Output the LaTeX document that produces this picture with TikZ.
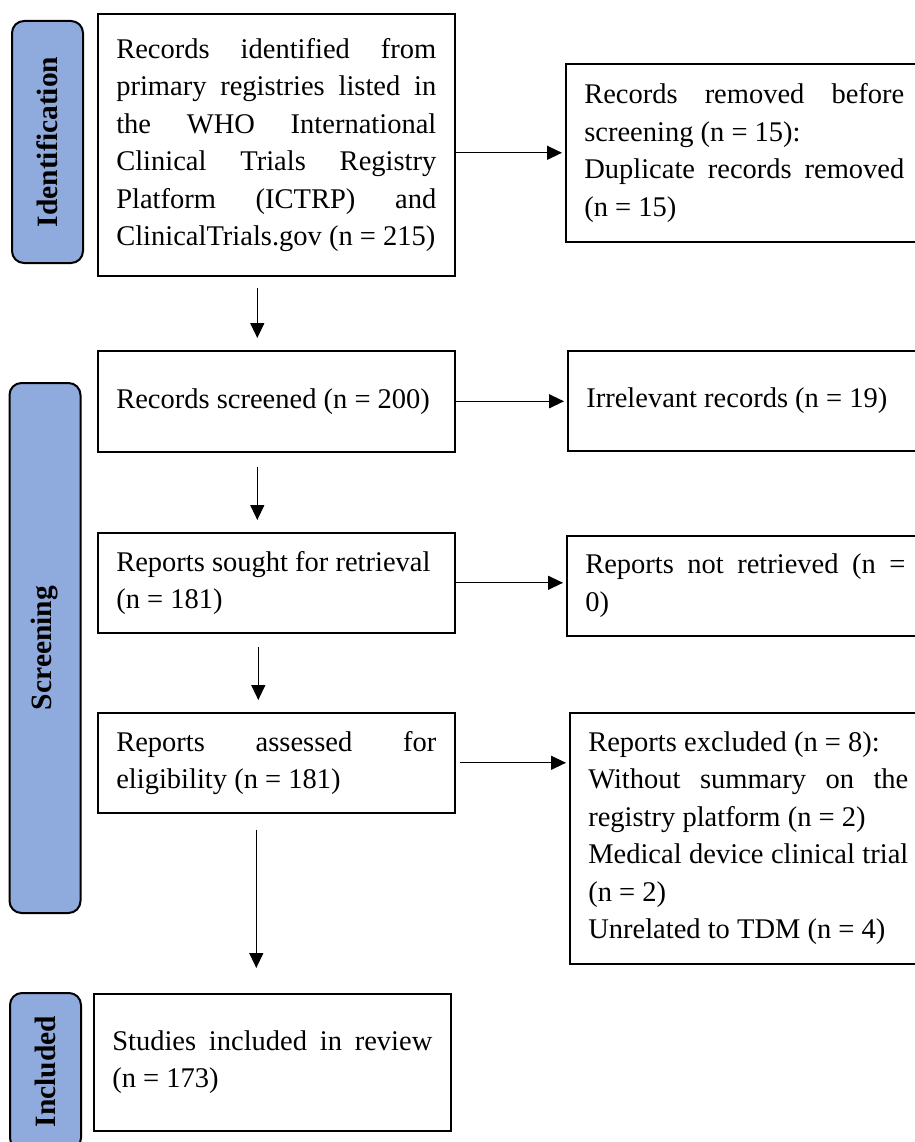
\documentclass[tikz,border=0pt]{standalone}
\usepackage{fontspec}
\setmainfont{Liberation Serif}
\usetikzlibrary{positioning, arrows.meta}
\definecolor{barblue}{HTML}{8FAADC}
\hyphenpenalty=10000
\exhyphenpenalty=10000
\tolerance=9999
\tikzset{
  flowbox/.style={draw, line width=1.6pt, anchor=north west, text width=320pt,
    inner xsep=18.5pt, align=justify, font=\fontsize{28.5}{37.5}\selectfont},
  stagebar/.style={draw, line width=2pt, fill=barblue, rounded corners=12pt,
    rotate=90, minimum height=71pt, font=\fontsize{29.5}{34}\selectfont\bfseries},
  flowarrow/.style={-{Triangle[length=15pt,width=14pt]}, line width=1.3pt},
}
\begin{document}
\begin{tikzpicture}[x=1pt, y=-1pt]
\useasboundingbox (0,0) rectangle (914,1142);

% stage bars
\node[stagebar, minimum width=242pt] (identbar) at (47.5,142) {Identification};
\node[stagebar, minimum width=530pt] (screenbar) at (45,648) {Screening};
\node[stagebar, minimum width=157pt] (inclbar) at (45.5,1071.5) {Included};

% left column
\node[flowbox, minimum height=262pt] (records) at (97,13) {Records identified from\linebreak primary registries listed in\linebreak the WHO International\linebreak Clinical Trials Registry\linebreak Platform (ICTRP) and\linebreak ClinicalTrials.gov (n~=~215)};
\node[flowbox, minimum height=101pt] (screened) at (97,350) {Records screened (n~=~200)};
\node[flowbox, minimum height=100pt] (sought) at (97,532) {Reports sought for retrieval\\ (n~=~181)};
\node[flowbox, minimum height=100pt] (assessed) at (97,712) {Reports assessed for\linebreak eligibility (n~=~181)};
\node[flowbox, minimum height=137pt] (included) at (93,993) {Studies included in review\linebreak (n~=~173)};

% right column
\node[flowbox, minimum height=178pt] (removed) at (565,63) {Records removed before\linebreak screening (n~=~15):\\ Duplicate records removed\linebreak (n~=~15)};
\node[flowbox, minimum height=100pt] (irrelevant) at (567,350) {Irrelevant records (n~=~19)};
\node[flowbox, minimum height=100pt] (notretr) at (566,535) {Reports not retrieved (n =\linebreak 0)};
\node[flowbox, minimum height=251pt] (excluded) at (569,712) {Reports excluded (n~=~8):\\ Without summary on the\linebreak registry platform (n~=~2)\\ Medical device clinical trial\linebreak (n~=~2)\\ Unrelated to TDM (n~=~4)};

% arrows down
\draw[flowarrow, shorten <=11pt, shorten >=12pt] ([xshift=-19pt]records.south) -- ([xshift=-19pt]records.south |- screened.north);
\draw[flowarrow, shorten <=14pt, shorten >=12pt] ([xshift=-19pt]screened.south) -- ([xshift=-19pt]screened.south |- sought.north);
\draw[flowarrow, shorten <=13pt, shorten >=12pt] ([xshift=-18pt]sought.south) -- ([xshift=-18pt]sought.south |- assessed.north);
\draw[flowarrow, shorten <=16pt, shorten >=25pt] ([xshift=-20pt]assessed.south) -- ([xshift=-20pt]assessed.south |- included.north);

% arrows right
\draw[flowarrow, shorten >=3pt] (records.east |- removed.west) -- (removed.west);
\draw[flowarrow, shorten >=3pt] (screened.east) -- (screened.east -| irrelevant.west);
\draw[flowarrow, shorten >=3pt] (sought.east) -- (sought.east -| notretr.west);
\draw[flowarrow, shorten <=4pt, shorten >=3pt] (assessed.east) -- (assessed.east -| excluded.west);

\end{tikzpicture}
\end{document}
